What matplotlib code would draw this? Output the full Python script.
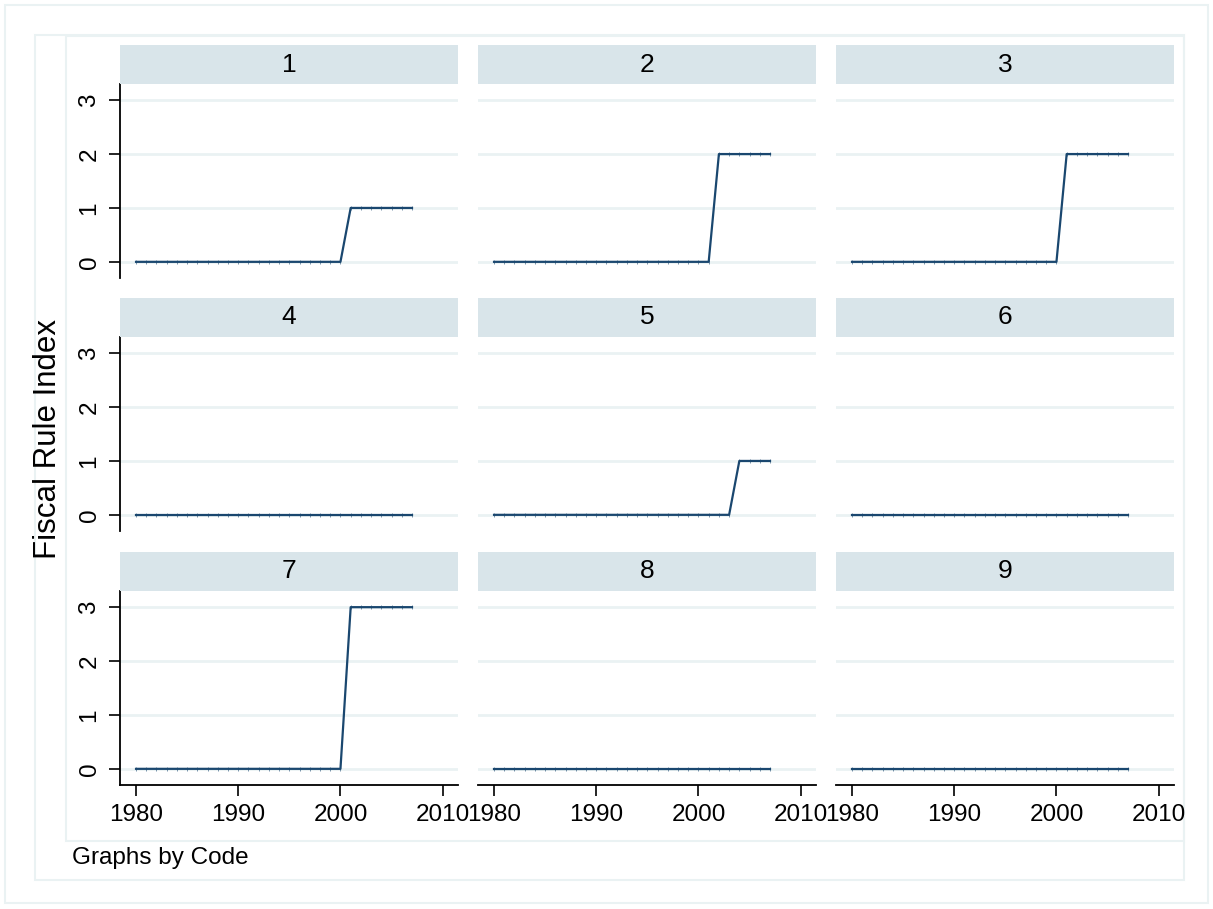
import matplotlib
matplotlib.use("Agg")
import matplotlib.pyplot as plt
from matplotlib.patches import Rectangle

plt.rcParams['font.family'] = ['Liberation Sans', 'DejaVu Sans']

years = list(range(1980, 2008))
codes = ["1", "2", "3", "4", "5", "6", "7", "8", "9"]
# Fiscal rule index by code, 1980-2007
fri_1 = [0, 0, 0, 0, 0, 0, 0, 0, 0, 0, 0, 0, 0, 0, 0, 0, 0, 0, 0, 0, 0, 1, 1, 1, 1, 1, 1, 1]
fri_2 = [0, 0, 0, 0, 0, 0, 0, 0, 0, 0, 0, 0, 0, 0, 0, 0, 0, 0, 0, 0, 0, 0, 2, 2, 2, 2, 2, 2]
fri_3 = [0, 0, 0, 0, 0, 0, 0, 0, 0, 0, 0, 0, 0, 0, 0, 0, 0, 0, 0, 0, 0, 2, 2, 2, 2, 2, 2, 2]
fri_4 = [0, 0, 0, 0, 0, 0, 0, 0, 0, 0, 0, 0, 0, 0, 0, 0, 0, 0, 0, 0, 0, 0, 0, 0, 0, 0, 0, 0]
fri_5 = [0, 0, 0, 0, 0, 0, 0, 0, 0, 0, 0, 0, 0, 0, 0, 0, 0, 0, 0, 0, 0, 0, 0, 0, 1, 1, 1, 1]
fri_6 = [0, 0, 0, 0, 0, 0, 0, 0, 0, 0, 0, 0, 0, 0, 0, 0, 0, 0, 0, 0, 0, 0, 0, 0, 0, 0, 0, 0]
fri_7 = [0, 0, 0, 0, 0, 0, 0, 0, 0, 0, 0, 0, 0, 0, 0, 0, 0, 0, 0, 0, 0, 3, 3, 3, 3, 3, 3, 3]
fri_8 = [0, 0, 0, 0, 0, 0, 0, 0, 0, 0, 0, 0, 0, 0, 0, 0, 0, 0, 0, 0, 0, 0, 0, 0, 0, 0, 0, 0]
fri_9 = [0, 0, 0, 0, 0, 0, 0, 0, 0, 0, 0, 0, 0, 0, 0, 0, 0, 0, 0, 0, 0, 0, 0, 0, 0, 0, 0, 0]
series = [fri_1, fri_2, fri_3, fri_4, fri_5, fri_6, fri_7, fri_8, fri_9]

W, H = 1213, 909
fig = plt.figure(figsize=(W / 100, H / 100), dpi=100)

line_col = "#1a476f"
strip_col = "#d9e5ea"
grid_col = "#eaf2f3"

def fx(px):
    return px / W

def fy(py):
    return 1 - py / H

# background frames (stata style)
for (x0, y0, x1, y1) in [(5, 5, 1208, 903), (35, 35, 1184, 880), (66, 36, 1184, 841)]:
    fig.add_artist(Rectangle((fx(x0), fy(y1)), fx(x1 - x0), (y1 - y0) / H,
                             transform=fig.transFigure, fill=False,
                             edgecolor=grid_col, lw=1.5, zorder=0))

col_left = [120, 478, 836]
panel_w = 338
row_top = [45, 298, 552]
strip_h = 39
plot_h = 194

for i, code in enumerate(codes):
    r, c = divmod(i, 3)
    x0 = col_left[c]
    st = row_top[r]
    pt = st + strip_h
    ax = fig.add_axes([fx(x0), fy(pt + plot_h), panel_w / W, plot_h / H])
    ax.plot(years, series[i], color=line_col, lw=1.6, marker='|', ms=2.5,
            mew=0.4, zorder=3)
    ax.set_xlim(1978.43, 2011.5)
    ax.set_ylim(-0.3, 3.3)
    ax.set_yticks([0, 1, 2, 3])
    ax.set_xticks([1980, 1990, 2000, 2010])
    ax.grid(axis='y', color=grid_col, lw=2)
    ax.set_axisbelow(True)
    for s in ax.spines.values():
        s.set_visible(False)
    if c == 0:
        ax.spines['left'].set_visible(True)
        ax.spines['left'].set_linewidth(1.3)
        ax.tick_params(axis='y', length=8, width=1.2, pad=6, labelsize=17.5,
                       labelrotation=90)
        for lab in ax.get_yticklabels():
            lab.set_va('center')
    else:
        ax.tick_params(axis='y', left=False, labelleft=False)
    if r == 2:
        ax.spines['bottom'].set_visible(True)
        ax.spines['bottom'].set_linewidth(1.3)
        ax.tick_params(axis='x', length=8, width=1.2, pad=6, labelsize=17.5)
    else:
        ax.tick_params(axis='x', bottom=False, labelbottom=False)

    # strip header
    sax = fig.add_axes([fx(x0), fy(pt), panel_w / W, strip_h / H])
    sax.set_facecolor(strip_col)
    sax.set_xticks([])
    sax.set_yticks([])
    for s in sax.spines.values():
        s.set_visible(False)
    sax.text(0.5, 0.5, code, ha='center', va='center', fontsize=19,
             transform=sax.transAxes)

fig.text(fx(48), fy(439), "Fiscal Rule Index", rotation=90, ha='center',
         va='center', fontsize=22.5)
fig.text(fx(72), fy(858), "Graphs by Code", ha='left', va='center', fontsize=17.5)

fig.savefig("out.png", dpi=100)
